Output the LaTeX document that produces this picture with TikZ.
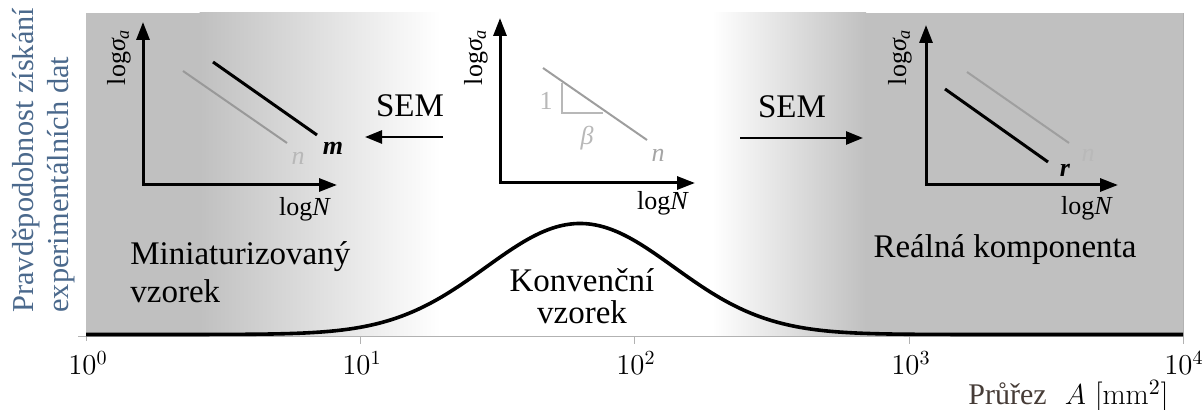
\documentclass[tikz,border=0pt]{standalone}
\usepackage{fontspec}
\newfontfamily\tm{Liberation Serif}
\usetikzlibrary{arrows.meta}
\definecolor{bggray}{gray}{0.753}
\definecolor{ylab}{RGB}{75,105,140}
\definecolor{xlab}{RGB}{70,60,55}
\definecolor{lgray}{gray}{0.62}
\definecolor{llgray}{gray}{0.72}
\definecolor{axgray}{gray}{0.70}
\tikzset{
  ax/.style={line width=1.5pt, {Triangle[length=9pt,width=6.5pt]}-{Triangle[length=9pt,width=6.5pt]}},
  semarrow/.style={line width=1.3pt, -{Triangle[length=8.5pt,width=6.5pt]}},
  lab/.style={font=\tm\fontsize{13}{15}\selectfont, inner sep=0},
  big/.style={font=\tm\fontsize{16.5}{19}\selectfont, inner sep=0},
  ticklab/.style={font=\fontsize{14}{16}\selectfont, inner sep=0, anchor=base},
  curve/.style={line width=1.8pt, black},
  sline/.style={line width=1.5pt, black},
  gline/.style={line width=1pt, lgray},
}
\newcommand{\logsig}{log\textit{σ\textsubscript{a}}}
\begin{document}
\begin{tikzpicture}[x=0.5pt, y=-0.5pt]
\useasboundingbox (0,0) rectangle (1204,410);
% background
\fill[bggray] (86,13) rectangle (200,336);
\shade[left color=bggray, right color=white] (199.5,13) rectangle (440,336);
\shade[left color=white, right color=bggray] (712,13) rectangle (866,336);
\fill[bggray] (865.5,13) rectangle (1183,336);
% axis
\draw[axgray, line width=0.5pt] (78,336.5) -- (1183,336.5);
\foreach \t in {360,634,909} \draw[axgray, line width=0.5pt] (\t,336.5) -- (\t,344);
\draw[axgray, line width=0.5pt] (86,336.5) -- (86,341);
\draw[axgray, line width=0.5pt] (1183,13) -- (1183,344);
\node[ticklab] (t0) at (88,375) {$10^{0}$};
\node[ticklab] (t1) at (362,375) {$10^{1}$};
\node[ticklab] (t2) at (636,375) {$10^{2}$};
\node[ticklab] (t3) at (911,375) {$10^{3}$};
\node[ticklab] (t4) at (1184,375) {$10^{4}$};
\node[inner sep=0, anchor=base west, font=\fontsize{15}{17}\selectfont] (xl) at (968,405) {\textcolor{xlab}{\tm Průřez}\ \ $A$ [mm$^2$]};
% curve
\draw[curve] plot[domain=86:1183, samples=300, smooth] (\x, {334.5-111*exp(-((\x-580)/94)^2/2)});
% y label
\node[rotate=90, anchor=west, align=left, inner sep=0, text=ylab, font=\tm\fontsize{15.2}{17.5}\selectfont] (yl) at (44,313) {Pravděpodobnost získání\\experimentálních dat};
% left plot
\coordinate (ly) at (143,22); \coordinate (lo) at (143,185); \coordinate (lx) at (337,185);
\draw[ax] (ly) -- (lo) -- (lx);
\node[lab, rotate=90] (lsig) at (119,57) {\logsig};
\node[lab] (lN) at (305,209) {log\textit{N}};
\coordinate (lm1) at (213,62); \coordinate (lm2) at (317,135);
\coordinate (ln1) at (183,71); \coordinate (ln2) at (287,143);
\draw[sline] (lm1) -- (lm2);
\draw[gline, gray!80] (ln1) -- (ln2);
\node[lab] (lm) at (333,148) {\textbf{\textit{m}}};
\node[lab, text=llgray] (ln) at (298,158) {\textit{n}};
% middle plot
\coordinate (my) at (500,18); \coordinate (mo) at (500,183); \coordinate (mx) at (695,183);
\draw[ax] (my) -- (mo) -- (mx);
\node[lab, rotate=90] (msig) at (476,57) {\logsig};
\node[lab] (mN) at (663,203) {log\textit{N}};
\coordinate (mn1) at (543,68); \coordinate (mn2) at (647,140);
\draw[gline] (mn1) -- (mn2);
\coordinate (tr1) at (562,83); \coordinate (tr2) at (562,113); \coordinate (tr3) at (603,113);
\draw[llgray, line width=0.6pt] (tr1) -- (tr2) -- (tr3);
\node[lab, text=llgray] (one) at (546,101) {1};
\node[lab, text=llgray] (beta) at (587,138) {\textit{β}};
\node[lab, text=llgray!90!black] (mn) at (658,155) {\textit{n}};
% right plot
\coordinate (ry) at (926,25); \coordinate (ro) at (926,185); \coordinate (rx) at (1118,185);
\draw[ax] (ry) -- (ro) -- (rx);
\node[lab, rotate=90] (rsig) at (900,57) {\logsig};
\node[lab] (rN) at (1087,208) {log\textit{N}};
\coordinate (rr1) at (945,89); \coordinate (rr2) at (1048,162);
\coordinate (rn1) at (967,72); \coordinate (rn2) at (1069,143);
\draw[sline] (rr1) -- (rr2);
\draw[gline, color=gray!75] (rn1) -- (rn2);
\node[lab] (rr) at (1065,170) {\textbf{\textit{r}}};
\node[lab, text=gray!55] (rn) at (1088,155) {\textit{n}};
% SEM arrows
\node[big] (sem1) at (410,106) {SEM};
\node[big] (sem2) at (792,107) {SEM};
\coordinate (s1a) at (443,137); \coordinate (s1b) at (365,137);
\coordinate (s2a) at (740,138); \coordinate (s2b) at (863,138);
\draw[semarrow] (s1a) -- (s1b);
\draw[semarrow] (s2a) -- (s2b);
% region labels
\node[big, anchor=base west, align=left] (mini) at (130,303) {Miniaturizovaný\\vzorek};
\node[big, anchor=base, align=center, font=\tm\fontsize{16.5}{16}\selectfont] (konv) at (582,324) {Konvenční\\vzorek};
\node[big, anchor=base] (real) at (1005,258) {Reálná komponenta};
\end{tikzpicture}
\end{document}
